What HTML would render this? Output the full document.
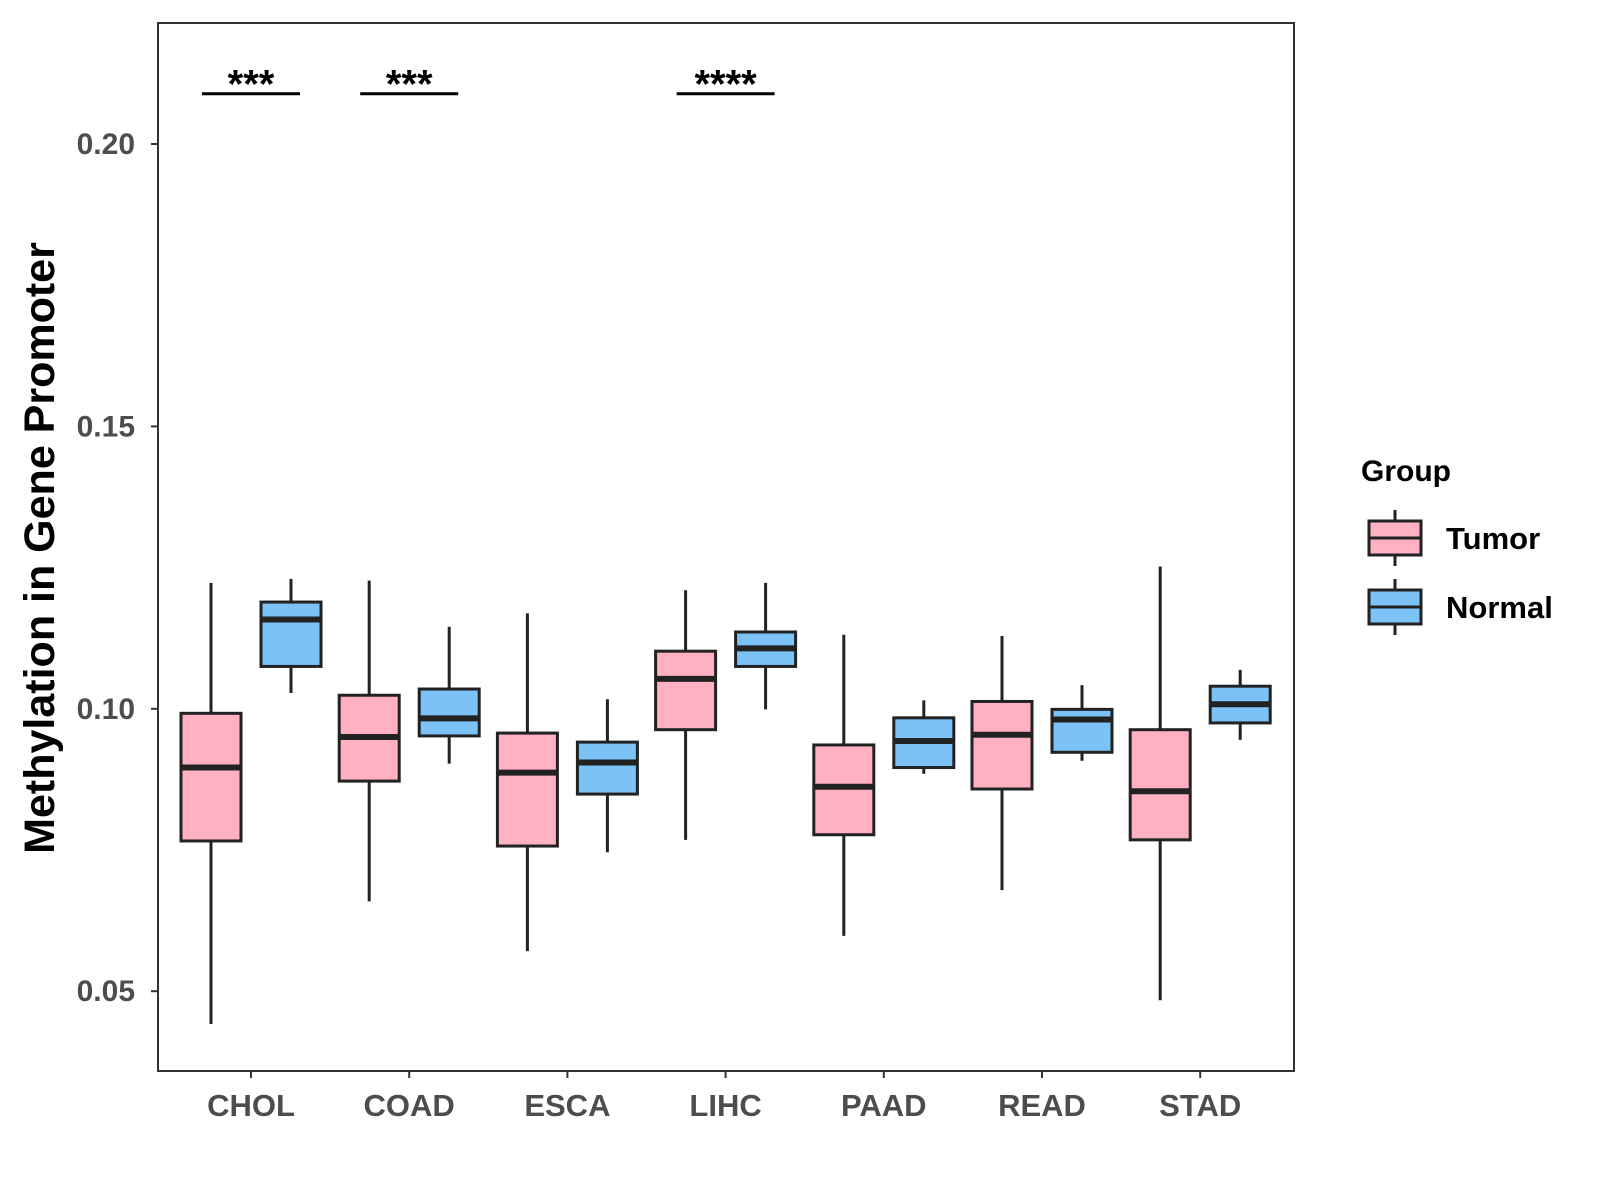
<!DOCTYPE html>
<html><head><meta charset="utf-8"><style>
html,body{margin:0;padding:0;background:#fff;}
svg{display:block;font-family:"Liberation Sans",Arial,sans-serif;font-weight:bold;}
</style></head><body>
<svg id="chart" width="1600" height="1200" viewBox="0 0 1600 1200" xmlns="http://www.w3.org/2000/svg">
<rect x="0" y="0" width="1600" height="1200" fill="#fff"/>
<rect x="158" y="23" width="1136" height="1048" fill="none" stroke="#333" stroke-width="2"/>
<g id="marks"></g>
<text transform="translate(54,548) rotate(-90)" text-anchor="middle" font-size="43" fill="#000">Methylation in Gene Promoter</text>
<text x="1361" y="481" font-size="30" fill="#000">Group</text>
</svg>
<script>
const categories = ["CHOL","COAD","ESCA","LIHC","PAAD","READ","STAD"];
const groups = ["Tumor","Normal"];
// [whiskerHigh, Q3, median, Q1, whiskerLow]
const tumorStats = [
 [0.1223,0.0992,0.0896,0.0766,0.0442],
 [0.1227,0.1024,0.0950,0.0872,0.0659],
 [0.1169,0.0957,0.0887,0.0757,0.0571],
 [0.1210,0.1102,0.1053,0.0963,0.0768],
 [0.1131,0.0936,0.0862,0.0777,0.0598],
 [0.1129,0.1013,0.0954,0.0858,0.0679],
 [0.1252,0.0963,0.0854,0.0768,0.0484]
];
const normalStats = [
 [0.1230,0.1189,0.1158,0.1075,0.1028],
 [0.1145,0.1035,0.0983,0.0952,0.0903],
 [0.1017,0.0941,0.0905,0.0849,0.0746],
 [0.1223,0.1136,0.1107,0.1075,0.0999],
 [0.1015,0.0984,0.0943,0.0896,0.0885],
 [0.1042,0.0999,0.0981,0.0923,0.0908],
 [0.1069,0.1040,0.1008,0.0975,0.0945]
];
const yTicks = [0.05,0.10,0.15,0.20];
const yTickLabels = ["0.05","0.10","0.15","0.20"];
const sigCategories = ["CHOL","COAD","LIHC"];
const sigLabels = ["***","***","****"];
const sigLevel = 0.2089;

const NS="http://www.w3.org/2000/svg";
const g=document.getElementById('marks');
const svg=document.getElementById('chart');
function y(v){return 144+(0.20-v)/0.05*282.4;}
function x(i){return 251+i*158.2;}
function mk(tag,attrs,parent){const e=document.createElementNS(NS,tag);for(const k in attrs)e.setAttribute(k,attrs[k]);(parent||g).appendChild(e);return e;}

yTicks.forEach((t,i)=>{
  const tk=mk('line',{x1:151,x2:158,y1:y(t),y2:y(t),stroke:'#333','stroke-width':2});
  
  
  const tl=mk('text',{x:135,y:y(t)+10,'text-anchor':'end','font-size':30,fill:'#4d4d4d'});
  tl.textContent=yTickLabels[i];
  
  
});
categories.forEach((c,i)=>{
  const tk=mk('line',{x1:x(i),x2:x(i),y1:1071,y2:1078,stroke:'#333','stroke-width':2});
  
  
  const tl=mk('text',{x:x(i),y:1116,'text-anchor':'middle','font-size':31,fill:'#4d4d4d'});
  tl.textContent=c;
  
  
});
const fills={Tumor:'#FFB1C1',Normal:'#7BC2F7'};
function box(cx,s,fill,name){
  const grp=mk('g',{});
  
  
  mk('line',{x1:cx,x2:cx,y1:y(s[0]),y2:y(s[4]),stroke:'#222','stroke-width':3},grp);
  mk('rect',{x:cx-30,y:y(s[1]),width:60,height:y(s[3])-y(s[1]),fill:fill,stroke:'#222','stroke-width':3},grp);
  mk('line',{x1:cx-30,x2:cx+30,y1:y(s[2]),y2:y(s[2]),stroke:'#222','stroke-width':6},grp);
}
categories.forEach((c,i)=>{
  box(x(i)-40,tumorStats[i],fills.Tumor,'box-tumor-'+c.toLowerCase());
  box(x(i)+40,normalStats[i],fills.Normal,'box-normal-'+c.toLowerCase());
});
sigCategories.forEach((c,k)=>{
  const i=categories.indexOf(c);
  const ln=mk('line',{x1:x(i)-49,x2:x(i)+49,y1:y(sigLevel),y2:y(sigLevel),stroke:'#000','stroke-width':3});
  
  
  const t=mk('text',{x:x(i),y:y(sigLevel)+4,'text-anchor':'middle','font-size':40,fill:'#000'});
  t.textContent=sigLabels[k];
  
  
});
groups.forEach((gname,k)=>{
  const cy=538+k*69;
  const lg=mk('g',{},svg);
  
  
  mk('line',{x1:1395,x2:1395,y1:cy-28,y2:cy+28,stroke:'#222','stroke-width':3},lg);
  mk('rect',{x:1369,y:cy-17,width:52,height:34,fill:fills[gname],stroke:'#222','stroke-width':3},lg);
  mk('line',{x1:1369,x2:1421,y1:cy,y2:cy,stroke:'#222','stroke-width':3},lg);
  const t=mk('text',{x:1446,y:cy+11,'font-size':31,fill:'#000'},lg);
  t.textContent=gname;
});
</script>
</body></html>
